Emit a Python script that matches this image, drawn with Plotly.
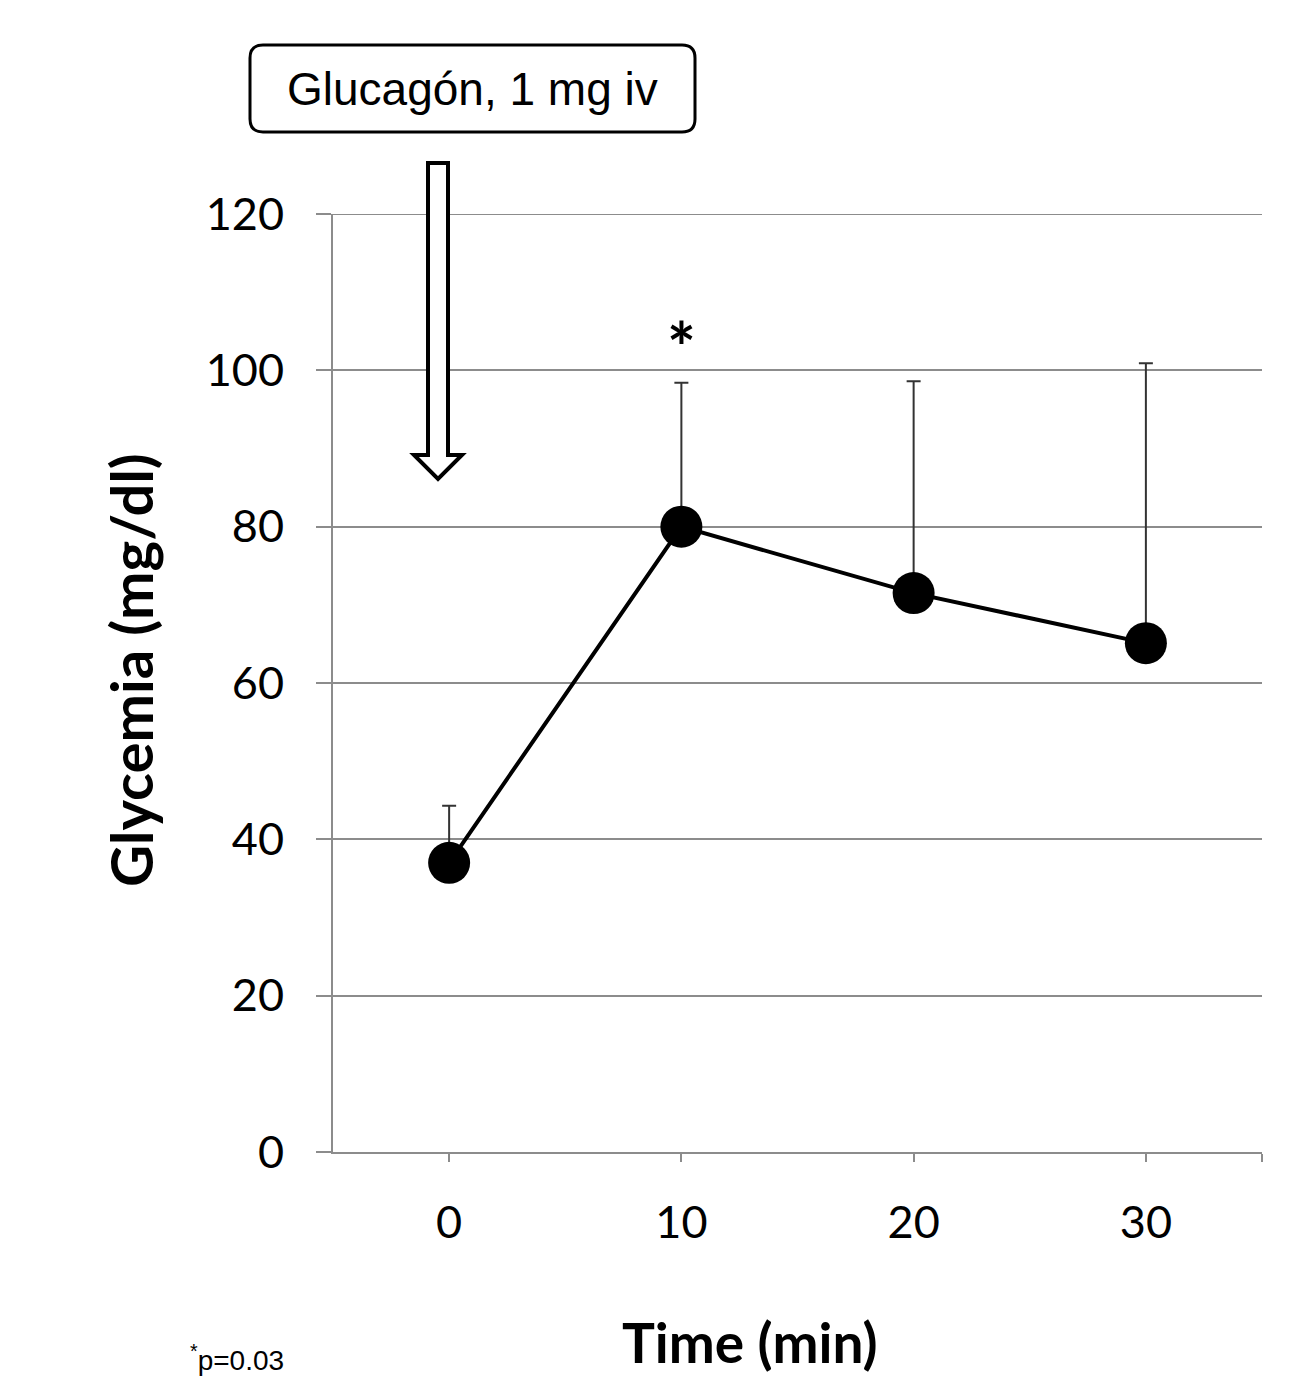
import plotly.graph_objects as go

# ---- data ----
time_min = [0, 10, 20, 30]
glycemia = [37.0, 80.0, 71.5, 65.1]
sd_upper = [7.3, 18.4, 27.1, 35.8]
x_tick_vals = [0, 10, 20, 30]
x_tick_text = ["0", "10", "20", "30"]
y_tick_vals = [0, 20, 40, 60, 80, 100, 120]

W, H = 1306, 1380
L, R, T, B = 333, 1262, 214, 1152  # plot area in px


def px(xp):
    return (xp - L) / (R - L)


def py(yp):
    return (B - yp) / (B - T)


fig = go.Figure()
fig.add_trace(go.Scatter(
    x=time_min, y=glycemia, mode="lines+markers",
    line=dict(color="black", width=4),
    marker=dict(color="black", size=42),
    error_y=dict(type="data", array=sd_upper, symmetric=False,
                 arrayminus=[0] * len(sd_upper),
                 color="#333333", thickness=2, width=7),
    showlegend=False, hoverinfo="skip",
))

tick_font = dict(family="Lato", size=45, color="black")

fig.update_layout(
    width=W, height=H,
    margin=dict(l=L, r=W - R, t=T, b=H - B),
    plot_bgcolor="white", paper_bgcolor="white",
    xaxis=dict(range=[-5, 35], tickmode="array", tickvals=x_tick_vals,
               ticktext=x_tick_text,
               showgrid=False, zeroline=False, showline=True,
               linecolor="#8c8c8c", linewidth=2,
               ticks="outside", ticklen=8, tickcolor="#8c8c8c", tickwidth=2,
               minor=dict(tickmode="array", tickvals=[35], ticks="outside",
                          ticklen=8, tickcolor="#8c8c8c", tickwidth=2,
                          showgrid=False),
               tickfont=tick_font, ticklabelstandoff=22),
    yaxis=dict(range=[0, 120], tickvals=y_tick_vals,
               showgrid=True, gridcolor="#8c8c8c", gridwidth=2,
               zeroline=False, showline=True,
               linecolor="#8c8c8c", linewidth=2,
               ticks="outside", ticklen=15, tickcolor="#8c8c8c", tickwidth=2,
               tickfont=tick_font, ticklabelstandoff=23),
)

# top gridline (at the range edge plotly omits it)
fig.add_shape(type="line", xref="paper", yref="y", x0=0, x1=1, y0=120, y1=120,
              line=dict(color="#8c8c8c", width=2), layer="below")

# rounded box for the glucagon label
bx0, bx1, by0, by1, rr = 250, 695, 45, 132, 13
rx = rr / (R - L)
ry = rr / (B - T)
X0, X1, Y0, Y1 = px(bx0), px(bx1), py(by0), py(by1)  # Y0 top, Y1 bottom
path = (f"M {X0+rx},{Y0} L {X1-rx},{Y0} Q {X1},{Y0} {X1},{Y0-ry} "
        f"L {X1},{Y1+ry} Q {X1},{Y1} {X1-rx},{Y1} "
        f"L {X0+rx},{Y1} Q {X0},{Y1} {X0},{Y1+ry} "
        f"L {X0},{Y0-ry} Q {X0},{Y0} {X0+rx},{Y0} Z")
fig.add_shape(type="path", path=path, xref="paper", yref="paper",
              line=dict(color="black", width=3), fillcolor="white")
fig.add_annotation(x=(X0 + X1) / 2, y=(Y0 + Y1) / 2, xref="paper", yref="paper",
                   xanchor="center", yanchor="middle",
                   text="Glucagón, 1 mg iv", showarrow=False,
                   font=dict(family="Liberation Sans", size=46, color="black"))

# hollow arrow
ax_pts = [(428, 163), (448, 163), (448, 455), (462, 455), (438, 479),
          (414, 455), (428, 455)]
apath = "M " + " L ".join(f"{px(a)},{py(b)}" for a, b in ax_pts) + " Z"
fig.add_shape(type="path", path=apath, xref="paper", yref="paper",
              line=dict(color="black", width=4), fillcolor="white")

# significance star
fig.add_annotation(x=10, y=103.0, xref="x", yref="y", text="<b>*</b>",
                   showarrow=False, xanchor="center", yanchor="middle",
                   font=dict(family="Lato", size=68, color="black"))

# axis titles
fig.add_annotation(x=px(750), y=py(1342), xref="paper", yref="paper",
                   xanchor="center", yanchor="middle",
                   text="<b>Time (min)</b>", showarrow=False,
                   font=dict(family="Lato", size=55, color="black"))
fig.add_annotation(x=px(130), y=py(670), xref="paper", yref="paper",
                   xanchor="center", yanchor="middle",
                   text="<b>Glycemia (mg/dl)</b>", showarrow=False, textangle=-90,
                   font=dict(family="Lato", size=58, color="black"))

# footnote
fig.add_annotation(x=px(188), y=py(1378), xref="paper", yref="paper",
                   text="<sup>*</sup>p=0.03", showarrow=False,
                   yanchor="bottom", xanchor="left",
                   font=dict(family="Liberation Sans", size=28, color="black"))

fig.write_html("out.html", config={"displayModeBar": False},
               post_script="document.body.style.margin='0';")
